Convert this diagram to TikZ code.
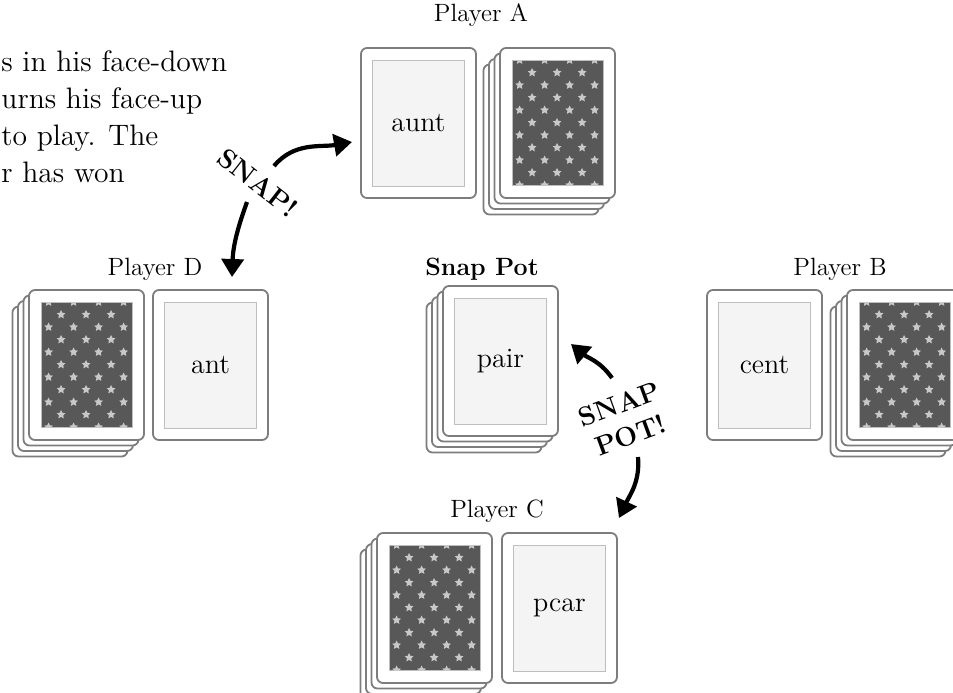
\documentclass[tikz,border=0pt]{standalone}
\usepackage{tikz}
\usetikzlibrary{arrows.meta,calc,shapes.geometric}
\definecolor{cardline}{RGB}{125,125,125}
\definecolor{facefill}{RGB}{244,244,244}
\definecolor{faceline}{RGB}{190,190,190}
\definecolor{backfill}{RGB}{88,88,88}
\definecolor{pipfill}{RGB}{200,200,200}
% one face-up card: name, centre, word
\newcommand{\upcard}[3]{%
  \node[card] (#1) at (#2) {};
  \node[face] (#1f) at (#1.center) {#3};}
% a face-down pile: name, centre of the top card
\newcommand{\deck}[2]{%
  \foreach \k in {3,2,1}{\node[card] (#1\k) at ($(#2)+(-5.5*\k,-5.5*\k)$) {};}
  \node[card] (#1) at (#2) {};
  \node[back] (#1b) at (#1.center) {};
  \begin{scope}
    \clip (#1b.south west) rectangle (#1b.north east);
    \foreach \j in {0,2,...,10}{\foreach \i in {0,...,3}{
      \node[pip] (#1p\j\i) at ($(#1b.north west)+(8+25*\i,-12.5*\j)$) {};}}
    \foreach \j in {1,3,...,9}{\foreach \i in {0,...,2}{
      \node[pip] (#1q\j\i) at ($(#1b.north west)+(20.5+25*\i,-12.5*\j)$) {};}}
  \end{scope}}

\begin{document}
\begin{tikzpicture}[x=0.5pt,y=0.5pt,
  card/.style={draw=cardline,line width=0.9pt,rounded corners=3pt,fill=white,
    minimum width=57.5pt,minimum height=75pt,inner sep=0pt},
  face/.style={draw=faceline,line width=0.5pt,fill=facefill,minimum width=46pt,
    minimum height=63pt,inner sep=0pt,font=\fontsize{14}{16}\selectfont},
  back/.style={draw=faceline,line width=0.4pt,fill=backfill,minimum width=45.5pt,
    minimum height=62.5pt,inner sep=0pt},
  pip/.style={star,star points=5,star point ratio=2,fill=pipfill,inner sep=0pt,
    minimum size=4.6pt},
  lbl/.style={font=\fontsize{12.5}{14}\selectfont,anchor=base},
  body/.style={font=\fontsize{14.8}{18}\selectfont,anchor=base west,inner sep=0pt},
  shout/.style={font=\fontsize{13.5}{16.5}\selectfont\bfseries,align=center,inner sep=1pt},
  snaparrow/.style={line width=2.1pt,-{Triangle[length=9pt,width=11pt]}}]
\useasboundingbox (0,0) rectangle (953,-692);
\clip (0,0) rectangle (953,-692);
% TEXT
\node[body] (txt1) at (1,-71) {s in his face-down};
\node[body] (txt2) at (1,-108) {urns his face-up};
\node[body] (txt3) at (1,-145) {to play. The};
\node[body] (txt4) at (1,-182) {r has won};
% PLAYER A
\node[lbl] (labA) at (481,-21) {Player A};
\upcard{cardA}{418.5,-123}{aunt}
\deck{deckA}{557.5,-123}
% PLAYER D
\node[lbl] (labD) at (155,-275) {Player D};
\deck{deckD}{86.5,-365}
\upcard{cardD}{210.5,-365}{ant}
% SNAP POT
\node[lbl,font=\fontsize{12.5}{14}\selectfont\bfseries] (labP) at (482,-275) {Snap Pot};
\deck{potS}{500.5,-361}
\node[face] (pot) at (potS.center) {pair};
% PLAYER B
\node[lbl] (labB) at (840,-275) {Player B};
\upcard{cardB}{764.5,-365}{cent}
\deck{deckB}{904.5,-365}
% PLAYER C
\node[lbl] (labC) at (497,-517) {Player C};
\deck{deckC}{434.5,-608}
\upcard{cardC}{559.5,-608}{pcar}
% SNAP!
\node[shout,rotate=-38] (snap) at (258,-183) {SNAP!};
\coordinate (snapA) at (274,-166); \coordinate (tipA) at (352,-142);
\coordinate (snapD) at (247,-202); \coordinate (tipD) at (232,-277);
\draw[snaparrow] (snapA) to[out=50,in=190] (tipA);
\draw[snaparrow] (snapD) to[out=-110,in=88] (tipD);
% SNAP POT!
\node[shout,rotate=20] (snappot) at (625,-420) {SNAP\\POT!};
\coordinate (potA) at (612,-378); \coordinate (tipP) at (571,-344);
\coordinate (potC) at (638,-457); \coordinate (tipC) at (619,-518);
\draw[snaparrow] (potA) to[out=125,in=-40] (tipP);
\draw[snaparrow] (potC) to[out=-85,in=65] (tipC);
\end{tikzpicture}
\end{document}
